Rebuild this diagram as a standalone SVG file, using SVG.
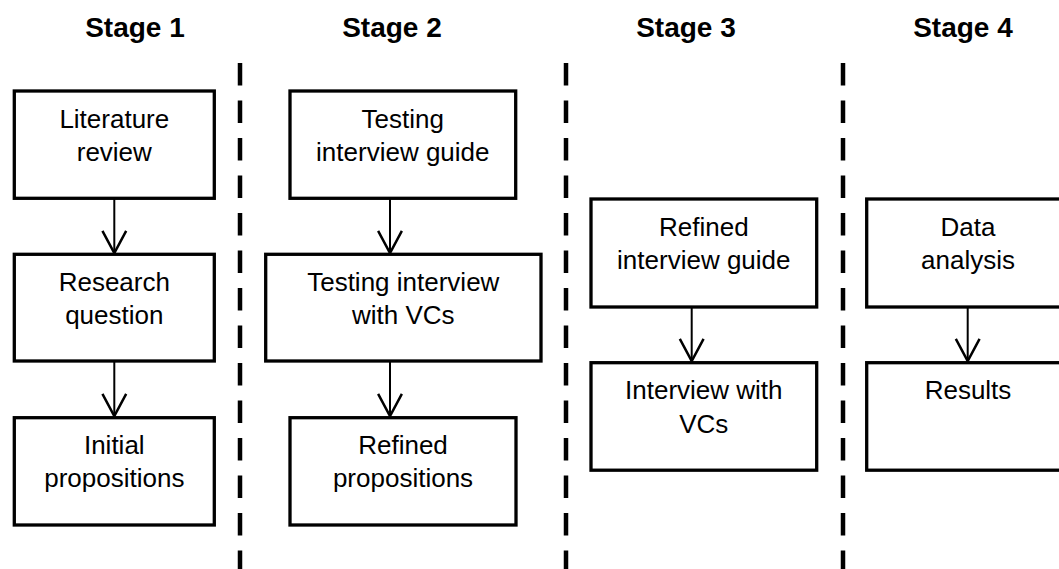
<svg xmlns="http://www.w3.org/2000/svg" width="1059" height="569" viewBox="0 0 1059 569">
<style>
.box{fill:#fff;stroke:#000;stroke-width:3.3}
.t{font-family:"Liberation Sans",Arial,sans-serif;font-size:26px;fill:#000;text-anchor:middle}
.h{font-family:"Liberation Sans",Arial,sans-serif;font-size:28px;font-weight:bold;fill:#000;text-anchor:middle}
.dash{stroke:#000;stroke-width:4.5;stroke-dasharray:22.5 15;fill:none}
.arr{stroke:#000;stroke-width:2;fill:none;marker-end:url(#ah)}
</style>
<defs>
<marker id="ah" markerUnits="userSpaceOnUse" markerWidth="30" markerHeight="30" viewBox="-20 -12 22 24" refX="0" refY="0" orient="auto" overflow="visible">
<path d="M-17.7,-9.5 L0,0 L-17.7,9.5" fill="none" stroke="#000" stroke-width="2"/>
</marker>
</defs>
<rect width="1059" height="569" fill="#fff"/>
<g id="titles">
<text class="h" x="135" y="37">Stage 1</text>
<text class="h" x="392" y="37">Stage 2</text>
<text class="h" x="686" y="37">Stage 3</text>
<text class="h" x="963" y="37">Stage 4</text>
</g>
<g id="dividers">
<line class="dash" x1="240" y1="63" x2="240" y2="575"/>
<line class="dash" x1="566" y1="63" x2="566" y2="575"/>
<line class="dash" x1="843" y1="63" x2="843" y2="575"/>
</g>
<g id="connectors">
<line class="arr" x1="114.3" y1="199" x2="114.3" y2="253"/>
<line class="arr" x1="114.3" y1="362" x2="114.3" y2="416"/>
<line class="arr" x1="390" y1="199" x2="390" y2="253"/>
<line class="arr" x1="390" y1="362" x2="390" y2="416"/>
<line class="arr" x1="691.7" y1="308" x2="691.7" y2="361"/>
<line class="arr" x1="967.7" y1="308" x2="967.7" y2="361"/>
</g>
<g id="literature-review">
<rect class="box" x="14.3" y="91" width="200" height="107.3"/>
<text class="t" x="114.3" y="127.5">Literature</text>
<text class="t" x="114.3" y="161">review</text>
</g>
<g id="research-question">
<rect class="box" x="14.3" y="254.3" width="200" height="106.7"/>
<text class="t" x="114.3" y="290.5">Research</text>
<text class="t" x="114.3" y="324">question</text>
</g>
<g id="initial-propositions">
<rect class="box" x="14.3" y="417.7" width="200" height="107.3"/>
<text class="t" x="114.3" y="453.5">Initial</text>
<text class="t" x="114.3" y="487">propositions</text>
</g>
<g id="testing-interview-guide">
<rect class="box" x="290" y="91" width="225.7" height="107.3"/>
<text class="t" x="402.8" y="127.5">Testing</text>
<text class="t" x="402.8" y="161">interview guide</text>
</g>
<g id="testing-interview-vcs">
<rect class="box" x="265.7" y="254.3" width="275.3" height="106.7"/>
<text class="t" x="403.3" y="290.5">Testing interview</text>
<text class="t" x="403.3" y="324">with VCs</text>
</g>
<g id="refined-propositions">
<rect class="box" x="290" y="417.7" width="226" height="107.3"/>
<text class="t" x="403" y="453.5">Refined</text>
<text class="t" x="403" y="487">propositions</text>
</g>
<g id="refined-interview-guide">
<rect class="box" x="591" y="199" width="225.7" height="108"/>
<text class="t" x="703.8" y="235.5">Refined</text>
<text class="t" x="703.8" y="269">interview guide</text>
</g>
<g id="interview-vcs">
<rect class="box" x="591" y="362.7" width="225.7" height="107.5"/>
<text class="t" x="703.8" y="398.5">Interview with</text>
<text class="t" x="703.8" y="432.5">VCs</text>
</g>
<g id="data-analysis">
<rect class="box" x="866.7" y="199" width="226" height="108"/>
<text class="t" x="968" y="235.5">Data</text>
<text class="t" x="968" y="269">analysis</text>
</g>
<g id="results">
<rect class="box" x="866.7" y="362.7" width="226" height="107.5"/>
<text class="t" x="968" y="398.5">Results</text>
</g>
</svg>
